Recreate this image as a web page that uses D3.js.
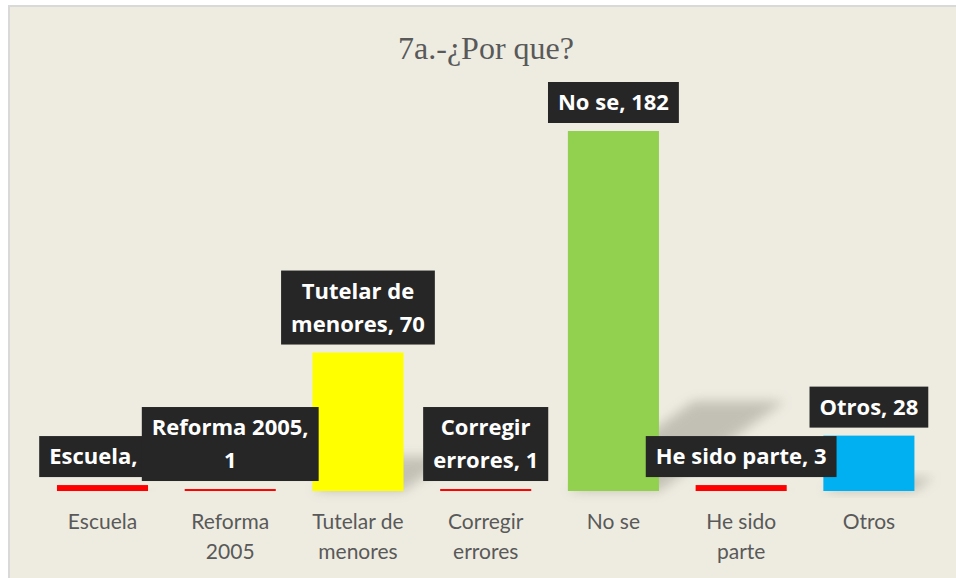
<!DOCTYPE html>
<html>
<head>
<meta charset="utf-8">
<script src="https://cdn.jsdelivr.net/npm/d3@7"></script>
<style>
  body { margin: 0; background: #fff; }
  svg { display: block; }
</style>
</head>
<body>
<div id="chart"></div>
<script>
// Chart data
var categories = ["Escuela", "Reforma 2005", "Tutelar de menores", "Corregir errores", "No se", "He sido parte", "Otros"];
var values = [3, 1, 70, 1, 182, 3, 28];
var barColors = ["#FF0000", "#FF0000", "#FFFF00", "#FF0000", "#92D050", "#FF0000", "#00B0F0"];
var tickLabels = [["Escuela"], ["Reforma", "2005"], ["Tutelar de", "menores"], ["Corregir", "errores"], ["No se"], ["He sido", "parte"], ["Otros"]];
var dataLabels = [["Escuela, 3"], ["Reforma 2005,", "1"], ["Tutelar de", "menores, 70"], ["Corregir", "errores, 1"], ["No se, 182"], ["He sido parte, 3"], ["Otros, 28"]];
var title = "7a.-¿Por que?";

var width = 956, height = 578;
var baseY = 491;

var svg = d3.select("#chart").append("svg")
  .attr("width", width)
  .attr("height", height);

var defs = svg.append("defs");
defs.append("filter")
  .attr("id", "blur")
  .attr("x", "-50%").attr("y", "-50%")
  .attr("width", "200%").attr("height", "200%")
  .append("feGaussianBlur")
  .attr("stdDeviation", 6);

// chart area background + border
svg.append("rect")
  .attr("x", 9).attr("y", 6)
  .attr("width", width + 10).attr("height", height + 10)
  .attr("fill", "#EEECE1")
  .attr("stroke", "#D9D9D9")
  .attr("stroke-width", 2);

svg.append("text")
  .attr("x", 486)
  .attr("y", 59)
  .attr("text-anchor", "middle")
  .style("font-family", "'Liberation Serif', 'Times New Roman', serif")
  .style("font-size", "32px")
  .attr("fill", "#595959")
  .text(title);

var xScale = d3.scaleBand()
  .domain(categories)
  .range([38.7, 932.7])
  .paddingInner(0.287)
  .paddingOuter(0.143);

var yScale = d3.scaleLinear()
  .domain([0, 182])
  .range([baseY, 131]);

var data = categories.map(function(c, i) {
  return {cat: c, value: values[i], color: barColors[i], ticks: tickLabels[i], label: dataLabels[i]};
});

// soft cast shadows behind bars
svg.append("g").attr("class", "shadows")
  .selectAll("polygon")
  .data(data)
  .enter().append("polygon")
  .attr("points", function(d) {
    var x0 = xScale(d.cat), x1 = x0 + xScale.bandwidth();
    var h = baseY - yScale(d.value);
    var dx = h * 0.35, dy = h * 0.25;
    return [[x0, baseY], [x1, baseY], [x1 + dx, baseY - dy], [x0 + dx, baseY - dy]].join(" ");
  })
  .attr("fill", "#8f8c80")
  .attr("opacity", 0.45)
  .attr("filter", "url(#blur)");

// bars
svg.append("g").attr("class", "bars")
  .selectAll("rect")
  .data(data)
  .enter().append("rect")
  .attr("x", function(d) { return xScale(d.cat); })
  .attr("width", xScale.bandwidth())
  .attr("y", function(d) { return yScale(d.value); })
  .attr("height", function(d) { return baseY - yScale(d.value); })
  .attr("fill", function(d) { return d.color; });

// x axis labels
var xAxis = svg.append("g").attr("class", "x axis");
data.forEach(function(d) {
  var cx = xScale(d.cat) + xScale.bandwidth() / 2;
  var t = xAxis.append("text")
    .attr("text-anchor", "middle")
    .style("font-family", "Lato, 'Open Sans', sans-serif")
    .style("font-size", "21px")
    .attr("fill", "#595959");
  d.ticks.forEach(function(line, i) {
    t.append("tspan").attr("x", cx).attr("y", 529 + i * 30).text(line);
  });
});

// data labels (drawn last, on top of bars)
var lineH = 33, pad = 10;
var labels = svg.append("g").attr("class", "labels");
data.forEach(function(d) {
  var cx = xScale(d.cat) + xScale.bandwidth() / 2;
  var g = labels.append("g");
  var box = g.append("rect").attr("fill", "#262626");
  var t = g.append("text")
    .attr("text-anchor", "middle")
    .style("font-family", "'Open Sans', Lato, sans-serif")
    .style("font-size", "22px")
    .style("font-weight", "bold")
    .attr("fill", "#FFFFFF");
  var n = d.label.length;
  var boxH = n * lineH + 8;
  var boxBottom = yScale(d.value) - 8;
  var boxTop = boxBottom - boxH;
  var maxW = 0;
  d.label.forEach(function(line, i) {
    var ts = t.append("tspan")
      .attr("x", cx)
      .attr("y", boxTop + 28 + i * lineH)
      .text(line);
    maxW = Math.max(maxW, ts.node().getComputedTextLength());
  });
  box.attr("x", cx - maxW / 2 - pad)
    .attr("y", boxTop)
    .attr("width", maxW + 2 * pad)
    .attr("height", boxH);
});
</script>
</body>
</html>
